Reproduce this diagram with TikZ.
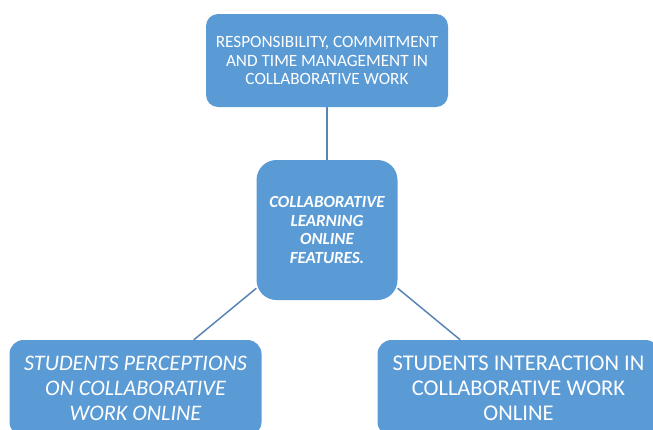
\documentclass[tikz,border=0pt]{standalone}
\usepackage{fontspec}
\setmainfont{Carlito}
\definecolor{boxblue}{HTML}{5B9BD5}
\definecolor{linkblue}{HTML}{5A84B4}

\begin{document}
\begin{tikzpicture}[
            x=1pt, y=1pt,
            level 1/.style={level distance=169.5pt},
            level 2/.style={level distance=158pt, sibling distance=383pt},
            edge from parent/.style={draw=linkblue, line width=1.5pt},
            every node/.style = {shape=rectangle, fill=boxblue, text=white, align=center, inner sep=0pt},
            themebox/.style = {rounded corners=12pt, minimum width=242pt, minimum height=93pt, font=\fontsize{17.2}{18.8}\selectfont},
            corebox/.style = {rounded corners=20pt, minimum width=141pt, minimum height=140pt, font=\fontsize{17}{18.5}\selectfont\bfseries\itshape},
            leafbox/.style = {rounded corners=14pt, minimum height=96pt, font=\fontsize{22.5}{25}\selectfont}
        ]
        \useasboundingbox (0,0) rectangle (653,-429);
        \clip (0,0) rectangle (653,-429);

        \node[themebox] (resp) at (327,-60.5) {RESPONSIBILITY, COMMITMENT \\ AND TIME MANAGEMENT IN \\ COLLABORATIVE WORK}
        child { node[corebox] (feat) {COLLABORATIVE \\ LEARNING \\ ONLINE \\ FEATURES.}
                child { node[leafbox, minimum width=252pt, font=\fontsize{22.2}{25}\selectfont\itshape] (perc) {STUDENTS PERCEPTIONS \\ ON COLLABORATIVE \\ WORK ONLINE} }
                child { node[leafbox, minimum width=282pt] (inter) {STUDENTS INTERACTION IN \\ COLLABORATIVE WORK \\ ONLINE} }
            };
    \end{tikzpicture}
\end{document}
